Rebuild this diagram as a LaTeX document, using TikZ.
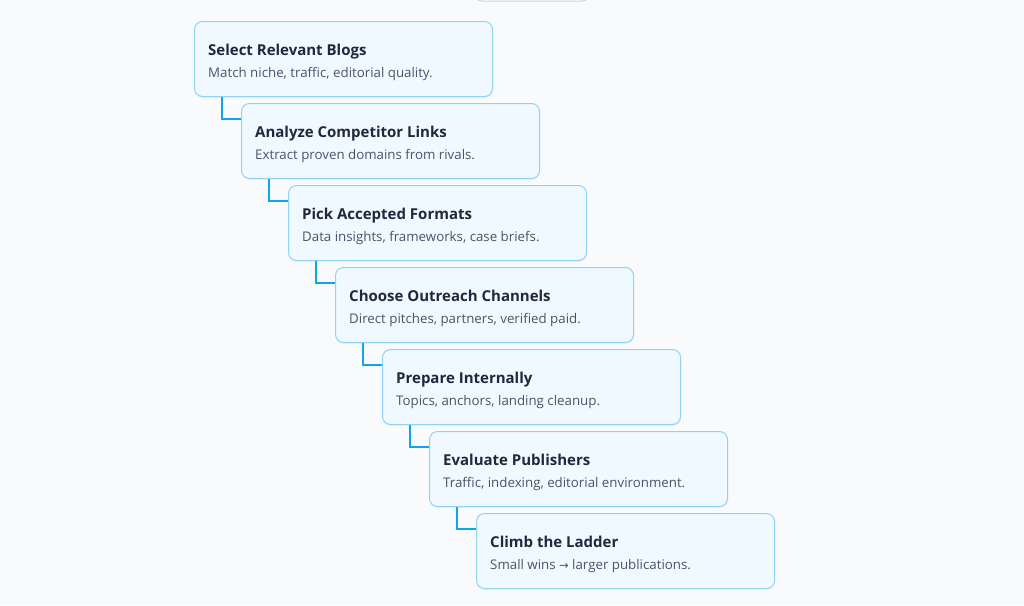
\documentclass[tikz,border=0pt]{standalone}
\usepackage{fontspec}
\setmainfont{Open Sans}
\newfontfamily\arrowfont{DejaVu Sans}
\definecolor{bg}{HTML}{F8FAFC}
\definecolor{boxfill}{HTML}{F0F9FF}
\definecolor{boxline}{HTML}{8FD3F7}
\definecolor{conn}{HTML}{0EA5E9}
\definecolor{titlec}{HTML}{1E293B}
\definecolor{subc}{HTML}{475569}
\definecolor{topline}{HTML}{CBD5E1}
\begin{document}
\begin{tikzpicture}[x=1pt,y=-1pt,
  stepbox/.style={draw=boxline,line width=1pt,fill=boxfill,rounded corners=8pt,
    minimum width=298pt,minimum height=75pt,anchor=north west,inner sep=0pt},
  ttl/.style={anchor=base west,inner sep=0pt,font=\fontsize{15}{18}\selectfont\bfseries,text=titlec},
  sub/.style={anchor=base west,inner sep=0pt,font=\fontsize{13.3}{16}\selectfont,text=subc},
  link/.style={draw=conn,line width=2pt}]
\useasboundingbox[fill=bg] (0,0) rectangle (1024,605);
\begin{scope}
\clip (0,0) rectangle (1024,605);
\draw[topline,fill=white,line width=1pt,rounded corners=8pt] (474,-40) rectangle (590,1);
\end{scope}
\foreach \i/\t/\s in {1/Select Relevant Blogs/{Match niche, traffic, editorial quality.},
  2/Analyze Competitor Links/{Extract proven domains from rivals.},
  3/Pick Accepted Formats/{Data insights, frameworks, case briefs.},
  4/Choose Outreach Channels/{Direct pitches, partners, verified paid.},
  5/Prepare Internally/{Topics, anchors, landing cleanup.},
  6/Evaluate Publishers/{Traffic, indexing, editorial environment.},
  7/Climb the Ladder/{Small wins {\arrowfont\fontsize{11.5}{15}\selectfont →} larger publications.}}{
  \pgfmathsetmacro\bx{194+47*(\i-1)}
  \pgfmathsetmacro\by{21+82*(\i-1)}
  \fill[black,opacity=0.04,rounded corners=8pt] (\bx+1,\by+2) rectangle ++(298,75);
  \node[stepbox] (b\i) at (\bx,\by) {};
  \node[ttl] (t\i) at (\bx+14,\by+34) {\t};
  \node[sub] (s\i) at (\bx+14,\by+56.5) {\s};
}
\foreach \i [evaluate=\i as \j using int(\i+1)] in {1,...,6}{
  \coordinate (c\i) at ([xshift=28pt]b\i.south west);
  \draw[link] (c\i) |- ([yshift=-16pt]b\j.north west);
}
\end{tikzpicture}
\end{document}
